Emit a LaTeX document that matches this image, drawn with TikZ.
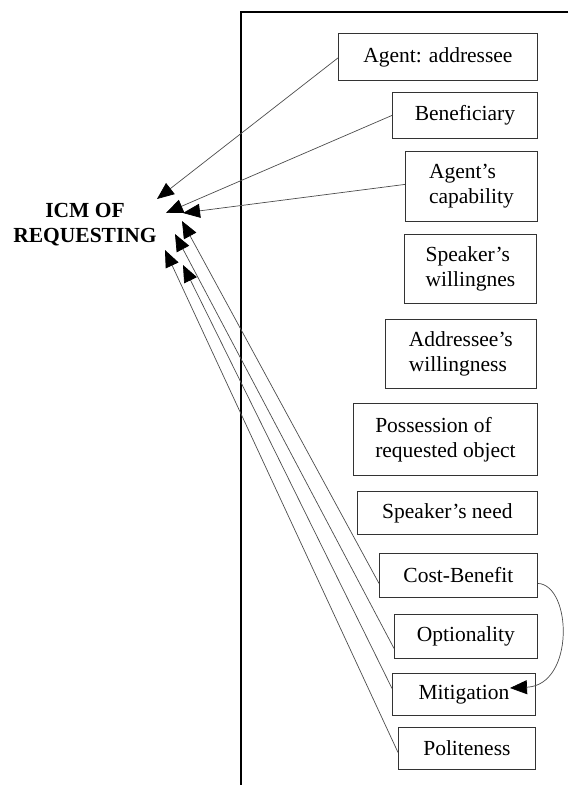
\documentclass[tikz,border=0pt]{standalone}
\usepackage{fontspec}
\setmainfont{Liberation Serif}
\usetikzlibrary{arrows.meta}

\begin{document}
\begin{tikzpicture}[x=1pt, y=-1pt,
    factor/.style={draw=black!80, line width=0.8pt, anchor=north west,
      inner sep=0pt, align=left, font=\fontsize{21.5}{25}\selectfont},
    feed/.style={draw=black!70, line width=0.7pt,
      -{Triangle[length=17pt, width=14pt, color=black]}}]
  \useasboundingbox (0,0) rectangle (568,785);

  % Frame
  \draw[line width=1.2pt] (568,12) -- (241,12) -- (241,785);

  % ICM label
  \node[align=center, font=\fontsize{21.5}{25}\selectfont\bfseries]
    (icm) at (85,225) {ICM OF\\REQUESTING};

  % Factors
  \node[factor, minimum width=199pt, minimum height=47pt] (agent) at (338,33) {Agent: addressee};
  \node[factor, minimum width=145pt, minimum height=46pt] (benef) at (392,92) {Beneficiary};
  \node[factor, minimum width=132pt, minimum height=70pt] (capab) at (405,151) {Agent's\\capability};
  \node[factor, minimum width=132pt, minimum height=69pt] (spkwill) at (404,234) {Speaker's\\willingnes};
  \node[factor, minimum width=151pt, minimum height=69pt] (addwill) at (385,319) {Addressee's\\willingness};
  \node[factor, minimum width=184pt, minimum height=72pt] (possess) at (353,403) {Possession of\\requested object};
  \node[factor, minimum width=180pt, minimum height=43pt] (spkneed) at (357,491) {Speaker's need};
  \node[factor, minimum width=158pt, minimum height=44pt] (costben) at (379,553) {Cost-Benefit};
  \node[factor, minimum width=143pt, minimum height=44pt] (option) at (394,614) {Optionality};
  \node[factor, minimum width=143pt, minimum height=42pt] (mitig) at (392,673) {Mitigation};
  \node[factor, minimum width=137pt, minimum height=42pt] (polite) at (398,727) {Politeness};

  % Arrow tips
  \coordinate (tipA) at (157,199);
  \coordinate (tipB) at (166,213);
  \coordinate (tipC) at (183,213);
  \coordinate (tipD) at (182,221);
  \coordinate (tipE) at (175,234);
  \coordinate (tipF) at (183,265);
  \coordinate (tipG) at (165,250);
  \coordinate (mtip) at (510,688);

  % Links to the ICM
  \draw[feed] ([yshift=-1pt]agent.west) -- (tipA);
  \draw[feed] (benef.west) -- (tipB);
  \draw[feed] ([yshift=2pt]capab.west) -- (tipC);
  \draw[feed] ([yshift=-8pt]costben.west) -- (tipD);
  \draw[feed] ([yshift=-12pt]option.west) -- (tipE);
  \draw[feed] ([yshift=6pt]mitig.west) -- (tipF);
  \draw[feed] ([yshift=-4pt]polite.west) -- (tipG);

  % Cost-Benefit to Mitigation
  \draw[feed] ([yshift=-8pt]costben.east) .. controls (572,585) and (575,685) .. (mtip);
\end{tikzpicture}
\end{document}
